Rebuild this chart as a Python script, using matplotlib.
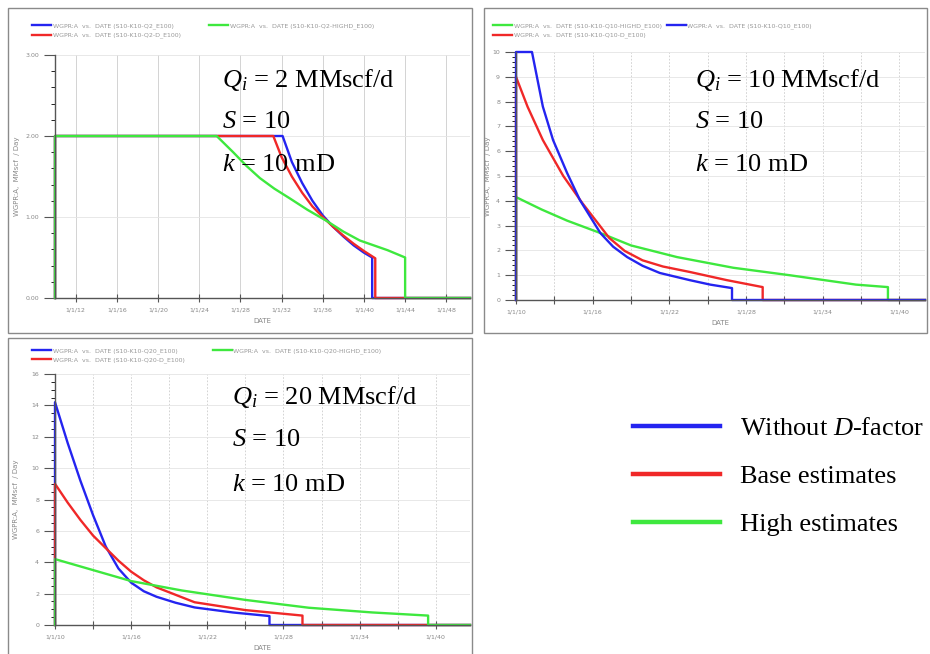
import matplotlib
matplotlib.use("Agg")
import matplotlib.pyplot as plt
from matplotlib.patches import Rectangle
from matplotlib.lines import Line2D

plt.rcParams['font.family'] = ['DejaVu Sans']
plt.rcParams['mathtext.fontset'] = 'custom'
plt.rcParams['mathtext.rm'] = 'Liberation Serif'
plt.rcParams['mathtext.it'] = 'Liberation Serif:italic'

# ---- data (years, gas rate MMscf/d) ----
# Qi = 2 MMscf/d
q2_blue_t = [2010, 2010, 2032.1, 2033, 2034, 2035, 2036, 2037, 2038, 2039, 2040, 2040.8, 2040.8, 2050.3]
q2_blue = [0, 2.0, 2.0, 1.68, 1.42, 1.20, 1.02, 0.88, 0.76, 0.65, 0.56, 0.50, 0, 0]
q2_red_t = [2010, 2010, 2031.2, 2032, 2033, 2034, 2035, 2036, 2037, 2038, 2039, 2040, 2041.1, 2041.1, 2050.3]
q2_red = [0, 2.0, 2.0, 1.74, 1.50, 1.30, 1.13, 1.00, 0.88, 0.77, 0.67, 0.58, 0.49, 0, 0]
q2_green_t = [2010, 2010, 2025.7, 2026.5, 2027.3, 2028.6, 2029.9, 2031.3, 2032.8, 2034.5,
              2036.4, 2038.0, 2039.6, 2042.3, 2044.0, 2044.0, 2050.3]
q2_green = [0, 2.0, 2.0, 1.90, 1.80, 1.63, 1.48, 1.35, 1.23, 1.09,
            0.95, 0.82, 0.71, 0.59, 0.50, 0, 0]

# Qi = 10 MMscf/d
q10_blue_t = [2010, 2010, 2011.25, 2012.1, 2012.9, 2014.0, 2015.0, 2016.6, 2017.6, 2018.7, 2019.9,
              2021.25, 2023.6, 2025.2, 2026.9, 2026.9, 2042]
q10_blue = [0, 10, 10, 7.8, 6.45, 5.12, 4.03, 2.7, 2.15, 1.73, 1.38,
            1.09, 0.80, 0.62, 0.48, 0, 0]
q10_red_t = [2010, 2010, 2010.9, 2012.1, 2013.7, 2015.2, 2017.3, 2018.5, 2019.9, 2021.5, 2023.6,
             2026.5, 2029.3, 2029.3, 2042]
q10_red = [0, 9.0, 7.8, 6.45, 5.0, 3.9, 2.5, 1.98, 1.6, 1.35, 1.13,
           0.80, 0.52, 0, 0]
q10_green_t = [2010, 2010, 2012, 2014, 2016.6, 2019, 2022.6, 2027, 2031.4, 2036.6, 2039.1, 2039.1, 2042]
q10_green = [0, 4.15, 3.65, 3.2, 2.7, 2.2, 1.73, 1.3, 1.0, 0.62, 0.52, 0, 0]

# Qi = 20 MMscf/d
q20_blue_t = [2010, 2010, 2011, 2012, 2013, 2014, 2015, 2016, 2017, 2018, 2019.5, 2021, 2024,
              2026.9, 2026.9, 2042.7]
q20_blue = [0, 14.2, 11.6, 9.2, 7.0, 5.0, 3.6, 2.7, 2.15, 1.8, 1.42, 1.12, 0.80,
            0.57, 0, 0]
q20_red_t = [2010, 2010, 2011, 2012, 2013, 2014, 2015, 2016, 2017, 2018, 2021, 2025, 2029.5, 2029.5, 2042.7]
q20_red = [0, 9.0, 7.8, 6.7, 5.7, 4.9, 4.1, 3.4, 2.85, 2.4, 1.45, 0.95, 0.60, 0, 0]
q20_green_t = [2010, 2010, 2013, 2016, 2020, 2025, 2030, 2035, 2039.4, 2039.4, 2042.7]
q20_green = [0, 4.2, 3.5, 2.8, 2.2, 1.6, 1.1, 0.8, 0.6, 0, 0]

q2_xticks = [2012, 2016, 2020, 2024, 2028, 2032, 2036, 2040, 2044, 2048]
q2_xlabels = ['1/1/12', '1/1/16', '1/1/20', '1/1/24', '1/1/28', '1/1/32',
              '1/1/36', '1/1/40', '1/1/44', '1/1/48']
q_xticks = [2010, 2013, 2016, 2019, 2022, 2025, 2028, 2031, 2034, 2037, 2040]
q_xlabels = ['1/1/10', '', '1/1/16', '', '1/1/22', '', '1/1/28', '', '1/1/34', '', '1/1/40']

BLUE = '#2424f0'
RED = '#f02828'
GREEN = '#3ee83e'
W, H = 930, 654

fig = plt.figure(figsize=(9.3, 6.54), dpi=100)


def box(l, t, r, b):
    return [l / W, 1 - b / H, (r - l) / W, (b - t) / H]


def fy(y):
    return 1 - y / H


# screenshot frames
for (l, t, r, b) in [(8, 8, 472, 333), (484, 8, 927, 333), (8, 338, 472, 660)]:
    fig.add_artist(Rectangle((l / W, fy(b)), (r - l) / W, (b - t) / H,
                             transform=fig.transFigure, fill=False,
                             edgecolor='#8a8a8a', lw=1.0))


def panel(px, series, xlim, ylim, xticks, xlabels, yticks, ylabels, yminor,
          grid_ls, leg_anchor, colspace, ylab_x):
    l, t, r, b = px
    ax = fig.add_axes(box(l, t, r, b))
    for tt, q, c, lab in series:
        ax.plot(tt, q, color=c, lw=1.7, label=lab, clip_on=False)
    ax.set_xlim(*xlim)
    ax.set_ylim(*ylim)
    ax.set_xticks(xticks)
    ax.set_xticklabels(xlabels)
    ax.set_yticks(yticks)
    ax.set_yticklabels(ylabels)
    ax.set_yticks(yminor, minor=True)
    for s in ['top', 'right']:
        ax.spines[s].set_visible(False)
    for s in ['left', 'bottom']:
        ax.spines[s].set_color('#555555')
        ax.spines[s].set_linewidth(1.0)
    ax.tick_params(axis='both', labelsize=4.5, colors='#555555', labelcolor='#888888')
    ax.tick_params(axis='x', direction='inout', length=6)
    ax.tick_params(axis='y', which='major', length=8)
    ax.tick_params(axis='y', which='minor', length=3)
    ax.grid(True, axis='x', color='#cccccc', lw=0.6, ls=grid_ls)
    ax.grid(True, axis='y', color='#e4e4e4', lw=0.6)
    ax.set_xlabel('DATE', fontsize=5, color='#888888', labelpad=4)
    ax.set_ylabel('WGPR:A,  MMscf  / Day', fontsize=5, color='#888888')
    ax.yaxis.set_label_coords((ylab_x - l) / (r - l), 0.5)
    ax.legend(loc='upper left', bbox_to_anchor=leg_anchor, bbox_transform=fig.transFigure,
              ncol=2, fontsize=4.5, frameon=False, handlelength=3.0,
              handletextpad=0.3, columnspacing=colspace, labelspacing=0.5,
              labelcolor='#999999', borderpad=0)
    return ax


panel((55, 55, 470, 298),
      [(q2_blue_t, q2_blue, BLUE, 'WGPR:A  vs.  DATE (S10-K10-Q2_E100)'),
       (q2_red_t, q2_red, RED, 'WGPR:A  vs.  DATE (S10-K10-Q2-D_E100)'),
       (q2_green_t, q2_green, GREEN, 'WGPR:A  vs.  DATE (S10-K10-Q2-HIGHD_E100)')],
      (2010, 2050.3), (0, 3), q2_xticks, q2_xlabels,
      [0, 1, 2, 3], ['0.00', '1.00', '2.00', '3.00'],
      [i * 0.2 for i in range(16)], '-', (29 / W, fy(20)), 4.5, 20)

panel((516, 52, 925, 300),
      [(q10_green_t, q10_green, GREEN, 'WGPR:A  vs.  DATE (S10-K10-Q10-HIGHD_E100)'),
       (q10_red_t, q10_red, RED, 'WGPR:A  vs.  DATE (S10-K10-Q10-D_E100)'),
       (q10_blue_t, q10_blue, BLUE, 'WGPR:A  vs.  DATE (S10-K10-Q10_E100)')],
      (2010, 2042), (0, 10), q_xticks, q_xlabels,
      list(range(11)), [str(i) for i in range(11)],
      [i * 0.2 for i in range(51)], (0, (2, 2)), (490 / W, fy(20)), 0.8, 491)

panel((55, 374, 470, 625),
      [(q20_blue_t, q20_blue, BLUE, 'WGPR:A  vs.  DATE (S10-K10-Q20_E100)'),
       (q20_red_t, q20_red, RED, 'WGPR:A  vs.  DATE (S10-K10-Q20-D_E100)'),
       (q20_green_t, q20_green, GREEN, 'WGPR:A  vs.  DATE (S10-K10-Q20-HIGHD_E100)')],
      (2010, 2042.7), (0, 16), q_xticks, q_xlabels,
      list(range(0, 17, 2)), [str(i) for i in range(0, 17, 2)],
      [i * 0.5 for i in range(33)], (0, (2, 2)), (29 / W, fy(345)), 4.5, 19)

# annotations
serif = dict(family='Liberation Serif', fontsize=19, va='center', ha='left')
for x0, ys, qi in [(222, (80, 122, 165), '2'), (695, (80, 122, 165), '10'),
                   (232, (397, 440, 485), '20')]:
    fig.text(x0 / W, fy(ys[0]), r'$Q_i$ = ' + qi + ' MMscf/d', **serif)
    fig.text(x0 / W, fy(ys[1]), r'$S$ = 10', **serif)
    fig.text(x0 / W, fy(ys[2]), r'$k$ = 10 mD', **serif)

handles = [Line2D([], [], color=BLUE, lw=3.2),
           Line2D([], [], color=RED, lw=3.2),
           Line2D([], [], color=GREEN, lw=3.2)]
fig.legend(handles, ['Without $D$-factor', 'Base estimates', 'High estimates'],
           loc='upper left', bbox_to_anchor=(633 / W, fy(417)), frameon=False,
           prop={'family': 'Liberation Serif', 'size': 19}, handlelength=3.3,
           handletextpad=0.75, labelspacing=0.92, borderpad=0, borderaxespad=0)

fig.savefig('out.png', dpi=100)
